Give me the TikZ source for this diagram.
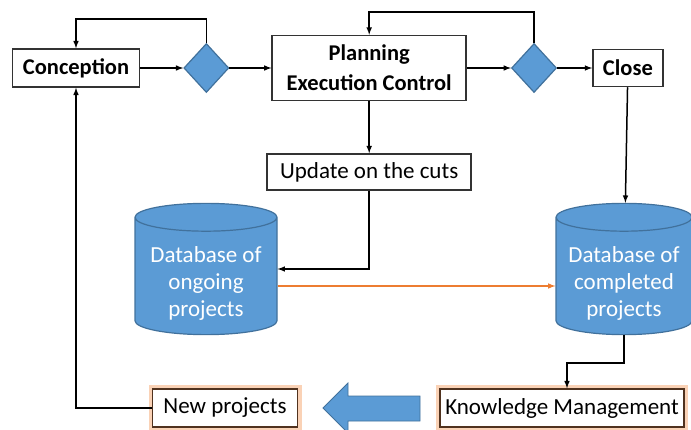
\documentclass[tikz,border=0pt]{standalone}
\usepackage{fontspec}
\setmainfont{Carlito}
\usetikzlibrary{positioning,shapes.geometric,calc}
\definecolor{dbblue}{RGB}{91,155,213}
\definecolor{dbedge}{RGB}{65,113,156}
\definecolor{glow}{RGB}{250,210,182}
\definecolor{brownline}{RGB}{80,50,30}
\definecolor{orline}{RGB}{237,125,49}
\newcommand{\dblift}{\rule{0pt}{31pt}}

\begin{document}
\begin{tikzpicture}[x=1pt,y=-1pt]
      \tikzstyle{phase}=[rectangle, draw=black!80, line width=1.5pt, fill=white, inner sep=0pt, align=center, font=\fontsize{22.5}{30}\selectfont\bfseries]
      \tikzstyle{task}=[rectangle, draw=black!80, line width=1.5pt, fill=white, inner sep=0pt, font=\fontsize{23}{27}\selectfont]
      \tikzstyle{decision}=[diamond, draw=dbedge, line width=1.2pt, fill=dbblue, minimum width=45pt, minimum height=49pt, inner sep=0pt]
      \tikzstyle{store}=[cylinder, shape border rotate=90, aspect=0.25, draw=dbedge, line width=1.2pt, fill=dbblue, text=white, inner sep=0pt, align=center, anchor=shape center, font=\fontsize{23}{27}\selectfont]
      \tikzstyle{lesson}=[task, draw=brownline, preaction={draw=glow, line width=8pt}]
      \tikzstyle{connect}=[-latex, line width=1.5pt]
      \tikzstyle{flow}=[-latex, line width=1.5pt, draw=orline]

      \useasboundingbox (0,0) rectangle (691,430);

      \node[phase, minimum width=127pt, minimum height=38pt] (concep) at (76,68) {Conception};
      \node[decision] (gate1) [right=43pt of concep] {};
      \node[phase, minimum width=194pt, minimum height=65pt] (plan) [right=42pt of gate1] {Planning\\Execution Control};
      \node[decision] (gate2) [right=44pt of plan] {};
      \node[phase, minimum width=70pt, minimum height=37pt] (close) [right=35pt of gate2] {Close};
      \node[task, minimum width=204pt, minimum height=36pt] (update) [below=52pt of plan] {Update on the cuts};

      \node[store, minimum width=142pt, minimum height=128pt] (ongoing) at (206,269) {\dblift Database of\\ongoing\\projects};
      \node[store, minimum width=136pt, minimum height=128pt] (done) at (624,269) {\dblift Database of\\completed\\projects};

      \node[lesson, minimum width=145pt, minimum height=38pt] (newproj) at (225,408) {New projects};
      \node[lesson, minimum width=244pt, minimum height=38pt] (km) at (562,408) {Knowledge Management};

      % big hand-over arrow
      \filldraw[fill=dbblue, draw=dbedge, line width=0.8pt] (323,408) -- (348,383) -- (348,396) -- (420,396)
            -- (420,421) -- (348,421) -- (348,433) -- cycle;

      \path (concep) edge [connect] (gate1)
            (gate1) edge [connect] (plan)
            (plan) edge [connect] (gate2)
            (gate2) edge [connect] (close)
            (plan) edge [connect] (update)
            (close) edge [connect] (done);

      \draw[connect] (gate1.north) -- ++(0,-24) -| (concep.north);
      \draw[connect] (gate2.north) -- ++(0,-31) -| (plan.north);
      \draw[connect] (update.south) |- (ongoing.shape center -| ongoing.east);
      \draw[flow] ($(ongoing.shape center -| ongoing.east)+(0,17)$) -- ($(done.shape center -| done.west)+(0,17)$);
      \draw[connect] (done.south) -- ++(0,28) -| ([xshift=5pt]km.north);
      \draw[connect] (newproj.west) -| (concep.south);
\end{tikzpicture}
\end{document}
